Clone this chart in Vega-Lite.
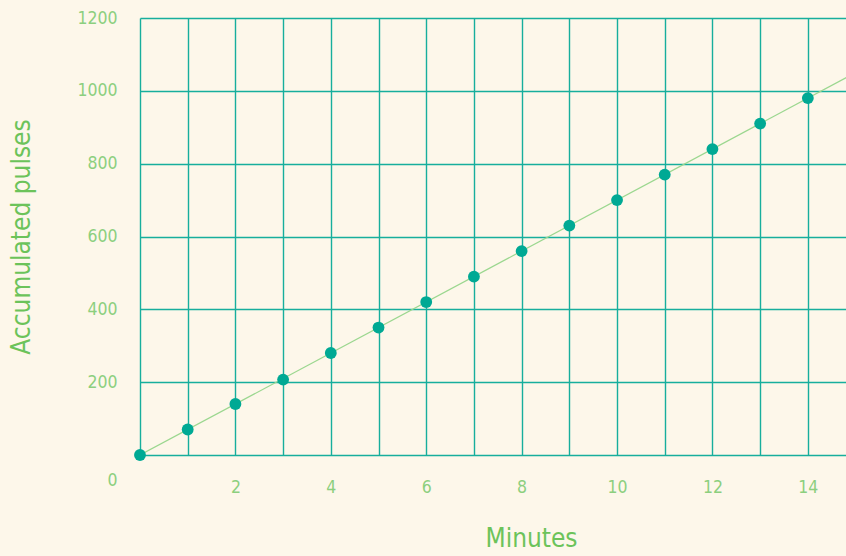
{
  "$schema": "https://vega.github.io/schema/vega-lite/v6.json",
  "autosize": "none",
  "width": 706,
  "height": 437,
  "padding": {"left": 140, "top": 18, "right": 0, "bottom": 101},
  "background": "#fdf7ea",
  "config": {
    "view": {"stroke": null},
    "font": "DejaVu Sans Condensed",
    "axis": {
      "grid": true,
      "gridColor": "#17ae9d",
      "gridWidth": 1.4,
      "domain": false,
      "ticks": false,
      "labelColor": "#8ccf7e",
      "labelFont": "DejaVu Sans Condensed",
      "labelFontSize": 17.5,
      "titleColor": "#6cc35a",
      "titleFont": "DejaVu Sans Condensed",
      "titleFontSize": 26,
      "titleFontWeight": "normal"
    }
  },
  "datasets": {
    "pulses": [
      {"minute": 0, "pulses": 0},
      {"minute": 1, "pulses": 70},
      {"minute": 2, "pulses": 140},
      {"minute": 3, "pulses": 207},
      {"minute": 4, "pulses": 280},
      {"minute": 5, "pulses": 350},
      {"minute": 6, "pulses": 420},
      {"minute": 7, "pulses": 490},
      {"minute": 8, "pulses": 560},
      {"minute": 9, "pulses": 630},
      {"minute": 10, "pulses": 700},
      {"minute": 11, "pulses": 770},
      {"minute": 12, "pulses": 840},
      {"minute": 13, "pulses": 910},
      {"minute": 14, "pulses": 980}
    ],
    "trend": [
      {"minute": 0, "pulses": 0},
      {"minute": 15, "pulses": 1050}
    ]
  },
  "layer": [
    {
      "data": {"name": "trend"},
      "mark": {"type": "line", "color": "#9bd78f", "strokeWidth": 1.2, "clip": true},
      "encoding": {
        "x": {
          "field": "minute",
          "type": "quantitative",
          "scale": {"domain": [0, 14.8], "nice": false},
          "axis": {
            "title": "Minutes",
            "titleX": 391,
            "titleY": 70,
            "values": [0, 1, 2, 3, 4, 5, 6, 7, 8, 9, 10, 11, 12, 13, 14],
            "labelExpr": "datum.value % 2 === 0 && datum.value > 0 ? datum.label : ''",
            "labelPadding": 23,
            "labelBaseline": "top"
          }
        },
        "y": {
          "field": "pulses",
          "type": "quantitative",
          "scale": {"domain": [0, 1200], "nice": false},
          "axis": {
            "title": "Accumulated pulses",
            "titleX": -106,
            "format": "d",
            "values": [0, 200, 400, 600, 800, 1000, 1200],
            "labelPadding": 23,
            "labelOffset": {"condition": {"test": "datum.value === 0", "value": 25}, "value": 0}
          }
        }
      }
    },
    {
      "data": {"name": "pulses"},
      "mark": {"type": "point", "filled": true, "opacity": 1, "size": 140, "color": "#00a994"},
      "encoding": {
        "x": {"field": "minute", "type": "quantitative"},
        "y": {"field": "pulses", "type": "quantitative"}
      }
    }
  ]
}
